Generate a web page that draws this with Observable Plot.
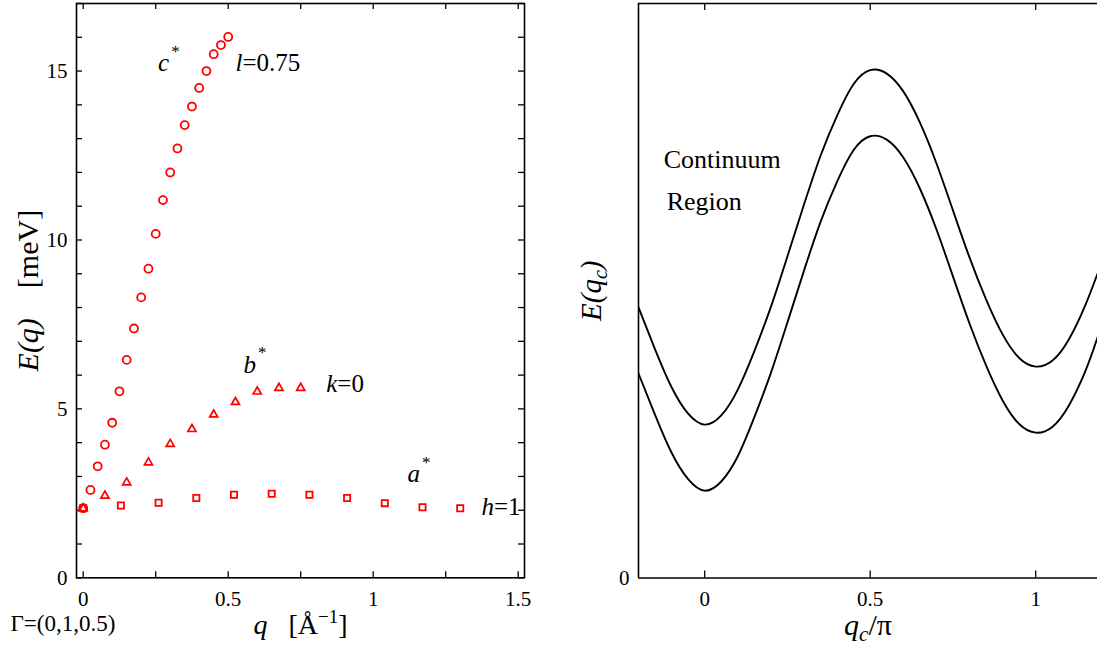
<!DOCTYPE html>
<html><head><meta charset="utf-8">
<script src="https://cdn.jsdelivr.net/npm/d3@7"></script>
<script src="https://cdn.jsdelivr.net/npm/@observablehq/plot@0.6"></script>
<style>
body{margin:0;background:#fff;}
#wrap{position:relative;width:1097px;height:648px;overflow:hidden;background:#fff;}
#left{position:absolute;left:0;top:0;}
#right{position:absolute;left:560px;top:0;}
</style></head><body><div id="wrap"><div id="left"></div><div id="right"></div></div>
<script>
// ---- left panel data: E(q) [meV] vs q [1/Å]
const cStarQ = [0,0.025,0.05,0.075,0.1,0.125,0.15,0.175,0.2,0.225,0.25,0.275,0.3,0.325,0.35,0.375,0.4,0.425,0.45,0.475,0.5];
const cStarE = [2.06,2.60,3.30,3.94,4.59,5.52,6.45,7.38,8.30,9.15,10.18,11.18,12.00,12.71,13.40,13.95,14.50,15.00,15.50,15.77,16.01];
const bStarQ = [0,0.075,0.15,0.225,0.3,0.375,0.45,0.525,0.6,0.675,0.75];
const bStarE = [2.05,2.43,2.82,3.41,3.96,4.40,4.83,5.20,5.51,5.62,5.62];
const aStarQ = [0,0.13,0.26,0.39,0.52,0.65,0.78,0.91,1.04,1.17,1.30];
const aStarE = [2.06,2.14,2.22,2.36,2.46,2.49,2.46,2.36,2.21,2.09,2.06];

const leftXTickLabels = [0,0.5,1,1.5];
const leftXTicks = [0,0.25,0.5,0.75,1,1.25,1.5];
const leftYTickLabels = [0,5,10,15];
const leftYTicks = [0,1,2,3,4,5,6,7,8,9,10,11,12,13,14,15,16,17];

// ---- right panel data: continuum boundaries E(q_c) vs q_c/π
const qcGrid = [-0.2,-0.15,-0.1,-0.05,0,0.05,0.1,0.15,0.2,0.25,0.3,0.35,0.4,0.45,0.5,0.55,0.6,0.65,0.7,0.75,0.8,0.85,0.9,0.95,1.0,1.05,1.1,1.15,1.187];
const upperE = [4.71,3.98,3.32,2.86,2.67,2.83,3.28,3.95,4.72,5.60,6.50,7.35,8.05,8.60,8.84,8.78,8.47,7.93,7.22,6.40,5.58,4.85,4.24,3.83,3.68,3.78,4.15,4.75,5.30];
const lowerE = [3.56,2.84,2.18,1.72,1.52,1.68,2.12,2.80,3.57,4.45,5.35,6.20,6.90,7.45,7.69,7.63,7.32,6.78,6.07,5.25,4.43,3.70,3.09,2.68,2.53,2.63,3.00,3.60,4.19];
const rightXTickLabels = [0,0.5,1];
const rightYTickLabels = [0];

const zip = (xs, ys) => xs.map((x, i) => ({x, y: ys[i]}));
const cData = zip(cStarQ, cStarE), bData = zip(bStarQ, bStarE), aData = zip(aStarQ, aStarE);
const upData = zip(qcGrid, upperE), loData = zip(qcGrid, lowerE);

const FONT = "Liberation Serif";
const RED = "#ff0000";
const fmt = d => String(d);

// annotations (positions in data units)
const leftNotes = [
  {x: 0.258, y: 15.0, t: "c*"},
  {x: 0.525, y: 15.0, t: "l=0.75"},
  {x: 0.553, y: 6.05, t: "b*"},
  {x: 0.838, y: 5.50, t: "k=0"},
  {x: 1.118, y: 2.83, t: "a*"},
  {x: 1.373, y: 1.85, t: "h=1"}
];

const LW = 560, LH = 648, LML = 76, LMR = 36, LMT = 3, LMB = 70.7;
const lfw = LW - LML - LMR, lfh = LH - LMT - LMB, tk = 6;

const left = Plot.plot({
  width: LW, height: LH,
  marginLeft: LML, marginRight: LMR, marginTop: LMT, marginBottom: LMB,
  x: {domain: [-0.0231, 1.5217]},
  y: {domain: [0, 17]},
  style: {fontFamily: FONT, background: "white", color: "black", overflow: "visible"},
  marks: [
    Plot.axisX(leftXTickLabels, {tickSize: 0, tickPadding: 13, fontSize: 21, label: null, tickFormat: fmt, fontFamily: FONT}),
    Plot.axisY(leftYTickLabels, {tickSize: 0, tickPadding: 9, fontSize: 21, label: null, tickFormat: fmt, fontFamily: FONT}),
    Plot.ruleX(leftXTicks, {x: d => d, insetTop: lfh - tk, stroke: "black", strokeWidth: 1.3}),
    Plot.ruleX(leftXTicks, {x: d => d, insetBottom: lfh - tk, stroke: "black", strokeWidth: 1.3}),
    Plot.ruleY(leftYTicks, {y: d => d, insetRight: lfw - tk, stroke: "black", strokeWidth: 1.3}),
    Plot.ruleY(leftYTicks, {y: d => d, insetLeft: lfw - tk, stroke: "black", strokeWidth: 1.3}),
    Plot.frame({stroke: "black", strokeWidth: 1.6}),
    Plot.dot(aData, {x: "x", y: "y", symbol: "square", r: 3.5, stroke: RED, fill: "none", strokeWidth: 1.8}),
    Plot.dot(bData, {x: "x", y: "y", symbol: "triangle", r: 3.0, stroke: RED, fill: "none", strokeWidth: 1.7}),
    Plot.dot(cData, {x: "x", y: "y", symbol: "circle", r: 4.0, stroke: RED, fill: "none", strokeWidth: 1.8}),
    Plot.text(leftNotes, {x: "x", y: "y", text: "t", textAnchor: "start", lineAnchor: "bottom", fontSize: 25, fill: "black", fontFamily: FONT}),
    Plot.text(["Γ=(0,1,0.5)"], {frameAnchor: "bottom-left", dx: -66, dy: 53, textAnchor: "start", lineAnchor: "bottom", fontSize: 23, fill: "black", fontFamily: FONT}),
    Plot.text(["q  [Å-1]"], {frameAnchor: "bottom", dy: 56, textAnchor: "middle", lineAnchor: "bottom", fontSize: 28, fill: "black", fontFamily: FONT}),
    Plot.text(["E(q)  [meV]"], {frameAnchor: "left", dx: -48, rotate: -90, textAnchor: "middle", lineAnchor: "middle", fontSize: 30, fill: "black", fontFamily: FONT})
  ]
});

const RW = 537, RH = 648, RML = 78, RMR = 0, RMT = 3, RMB = 70.5;
const rfh = RH - RMT - RMB, rtk = 7;
const rightNotes = [
  {x: -0.124, y: 7.13, t: "Continuum"},
  {x: -0.115, y: 6.41, t: "Region"}
];

const right = Plot.plot({
  width: RW, height: RH,
  marginLeft: RML, marginRight: RMR, marginTop: RMT, marginBottom: RMB,
  x: {domain: [-0.2, 1.1867]},
  y: {domain: [0, 10]},
  style: {fontFamily: FONT, background: "white", color: "black", overflow: "visible"},
  marks: [
    Plot.axisX(rightXTickLabels, {tickSize: 0, tickPadding: 13, fontSize: 21, label: null, tickFormat: fmt, fontFamily: FONT}),
    Plot.axisY(rightYTickLabels, {tickSize: 0, tickPadding: 9, fontSize: 21, label: null, tickFormat: fmt, fontFamily: FONT}),
    Plot.ruleX(rightXTickLabels, {x: d => d, insetTop: rfh - rtk, stroke: "black", strokeWidth: 1.3}),
    Plot.ruleX(rightXTickLabels, {x: d => d, insetBottom: rfh - rtk, stroke: "black", strokeWidth: 1.3}),
    Plot.ruleX([-0.2], {x: d => d, stroke: "black", strokeWidth: 1.6}),
    Plot.ruleY([0, 10], {y: d => d, stroke: "black", strokeWidth: 1.6}),
    Plot.line(upData, {x: "x", y: "y", curve: "natural", stroke: "black", strokeWidth: 1.9, clip: true}),
    Plot.line(loData, {x: "x", y: "y", curve: "natural", stroke: "black", strokeWidth: 1.9, clip: true}),
    Plot.text(rightNotes, {x: "x", y: "y", text: "t", textAnchor: "start", lineAnchor: "bottom", fontSize: 26, fill: "black", fontFamily: FONT}),
    Plot.text(["q_c/π"], {frameAnchor: "bottom", dy: 56.5, textAnchor: "middle", lineAnchor: "bottom", fontSize: 30, fill: "black", fontFamily: FONT}),
    Plot.text(["E(q_c)"], {frameAnchor: "left", dx: -47, rotate: -90, textAnchor: "middle", lineAnchor: "middle", fontSize: 29, fill: "black", fontFamily: FONT})
  ]
});

// rich text (italics, super/subscripts)
const richMap = {
  "c*": [{t: "c", i: 1}, {t: "*", shift: -14, fs: 17, dx: 2}],
  "b*": [{t: "b", i: 1}, {t: "*", shift: -15, fs: 17, dx: 2}],
  "a*": [{t: "a", i: 1}, {t: "*", shift: -14, fs: 17, dx: 2}],
  "l=0.75": [{t: "l", i: 1}, {t: "=0.75"}],
  "k=0": [{t: "k", i: 1}, {t: "=0"}],
  "h=1": [{t: "h", i: 1}, {t: "=1"}],
  "q  [Å-1]": [{t: "q", i: 1}, {t: "\u2002 [Å"}, {t: "\u22121", shift: -11, fs: 19}, {t: "]", shift: 0}],
  "E(q)  [meV]": [{t: "E(q)", i: 1}, {t: "\u2002\u2002[meV]"}],
  "q_c/π": [{t: "q", i: 1}, {t: "c", i: 1, shift: 6, fs: 21}, {t: "/π", shift: 0}],
  "E(q_c)": [{t: "E(q", i: 1}, {t: "c", i: 1, shift: 6, fs: 20}, {t: ")", i: 1, shift: 0}]
};
function rich(svg) {
  d3.select(svg).selectAll("text").each(function () {
    this.style.setProperty("font-family", "'Liberation Serif', serif", "important");
    const parts = richMap[this.textContent];
    if (!parts || this.querySelector("tspan")) return;
    const t = d3.select(this);
    t.text(null);
    let cur = 0;
    for (const p of parts) {
      const s = t.append("tspan").text(p.t);
      if (p.i) s.attr("font-style", "italic");
      if (p.fs) s.attr("font-size", p.fs);
      if (p.dx) s.attr("dx", p.dx);
      const target = p.shift === undefined ? cur : p.shift;
      if (target !== cur) { s.attr("dy", target - cur); cur = target; }
    }
  });
}
rich(left); rich(right);
document.getElementById("left").appendChild(left);
document.getElementById("right").appendChild(right);
</script>
</body></html>
